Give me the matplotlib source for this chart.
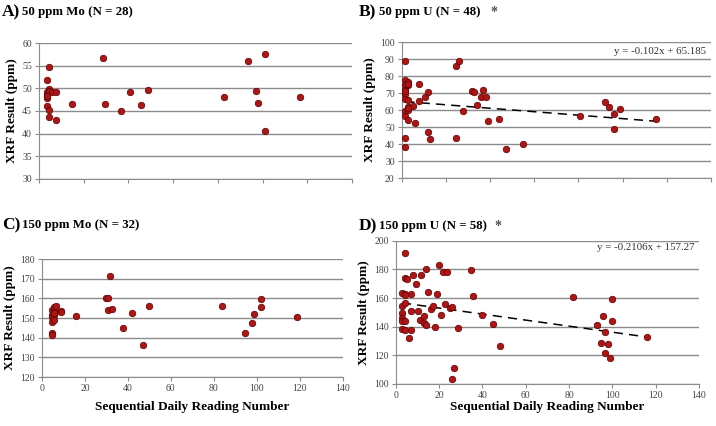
import numpy as np
import matplotlib
matplotlib.use("Agg")
import matplotlib.pyplot as plt

plt.rcParams["font.family"] = ["Liberation Serif", "DejaVu Serif"]

# A) 50 ppm Mo
a_x = [3.4, 4.6, 3.4, 3.4, 3.4, 4.6, 4.6, 5.7, 7.6, 3.4, 4.6, 4.6, 7.6, 14.6,
       28.8, 29.7, 36.7, 40.7, 45.7, 48.7, 82.8, 93.7, 97.0, 97.8, 100.9, 100.9,
       116.9, 3.4]
a_y = [51.9, 54.7, 49.1, 48.6, 47.8, 49.9, 49.5, 49.1, 49.1, 46.1, 45.3, 43.7,
       43.0, 46.5, 56.8, 46.6, 45.0, 49.1, 46.3, 49.6, 48.1, 56.0, 49.5, 46.8,
       57.6, 40.5, 48.0, 48.4]

# B) 50 ppm U
b_x = [1.7, 1.7, 1.7, 1.7, 1.7, 1.7, 1.7, 1.7, 1.7, 1.7, 2.7, 2.7, 2.7, 2.7,
       2.7, 2.7, 5.0, 5.9, 7.8, 7.8, 10.7, 11.8, 11.8, 12.8, 24.7, 25.9, 24.7,
       27.9, 31.8, 32.9, 33.9, 35.9, 37.0, 38.0, 38.9, 44.0, 47.1, 55.1, 80.8,
       91.9, 93.9, 95.9, 95.9, 98.9, 115.1, 1.7, 2.7, 2.7]
b_y = [89.2, 77.5, 74.9, 72.0, 69.4, 66.7, 59.2, 56.7, 43.3, 38.0, 76.5, 74.9,
       66.1, 61.8, 60.2, 54.3, 62.2, 52.5, 75.5, 65.5, 67.8, 70.4, 47.3, 43.1,
       86.1, 88.8, 43.7, 59.4, 71.0, 70.4, 63.3, 68.0, 71.6, 68.0, 53.7, 54.5,
       37.1, 39.8, 56.3, 64.5, 61.6, 57.8, 49.0, 60.6, 54.5, 71.0, 75.5, 61.0]

# C) 150 ppm Mo
c_x = [4.7, 4.7, 4.7, 4.7, 4.7, 4.7, 5.6, 5.6, 5.6, 5.6, 5.9, 6.7, 8.8, 8.8,
       15.8, 29.6, 30.9, 31.8, 30.9, 32.7, 37.9, 41.8, 46.9, 49.8, 83.8, 94.7,
       97.6, 98.9, 101.8, 101.8, 118.7, 5.6]
c_y = [154.0, 151.7, 150.3, 148.0, 142.6, 141.2, 154.0, 151.3, 149.0, 155.7,
       153.0, 156.1, 153.7, 153.0, 151.0, 160.3, 160.4, 171.2, 154.2, 154.4,
       144.8, 152.8, 136.5, 155.9, 155.9, 142.6, 147.6, 151.8, 159.6, 155.5,
       150.5, 152.5]

# D) 150 ppm U
d_x = [4.2, 4.0, 4.9, 2.8, 4.0, 2.8, 4.0, 2.8, 2.8, 2.8, 4.0, 2.8, 4.0, 6.0,
       7.1, 7.1, 7.1, 7.8, 9.1, 10.0, 10.9, 11.8, 12.9, 12.9, 13.8, 14.0, 14.9,
       16.0, 16.9, 18.0, 19.1, 19.8, 20.9, 21.8, 23.8, 22.8, 25.1, 26.0, 25.8,
       26.9, 28.9, 34.9, 35.8, 40.0, 44.9, 48.0, 81.8, 92.9, 94.9, 95.8, 96.8,
       96.8, 97.8, 98.9, 99.7, 99.7, 116.0, 4.0]
d_y = [191.6, 174.3, 173.1, 163.8, 162.6, 154.7, 156.5, 149.5, 145.8, 144.2,
       143.7, 138.1, 137.9, 132.0, 150.9, 162.6, 137.9, 175.9, 169.6, 150.9,
       144.4, 175.9, 147.7, 142.5, 141.4, 180.4, 164.5, 152.6, 154.7, 139.5,
       163.1, 182.9, 148.1, 178.0, 178.3, 156.1, 153.3, 153.5, 103.3, 111.2,
       139.3, 179.4, 161.4, 147.9, 142.1, 126.2, 160.5, 140.9, 128.3, 147.7,
       136.0, 122.0, 127.8, 118.2, 159.6, 144.2, 132.9, 162.0]

b_fit = (-0.102, 65.185)
d_fit = (-0.2106, 157.27)

fig = plt.figure(figsize=(7.16, 4.26), dpi=100)

GRID = "#8c8c8c"
RED = "#b01515"


def setup(ax, x, y, ylim, ystep, xlabels, xpad=4):
    ax.scatter(x, y, s=22, color=RED, edgecolors="#5a0000", linewidths=0.5, zorder=3)
    ax.set_xlim(0, 140)
    ax.set_ylim(*ylim)
    ax.set_xticks(np.arange(0, 141, 20))
    ax.set_yticks(np.arange(ylim[0], ylim[1] + 1, ystep))
    ax.yaxis.grid(True, color=GRID, linewidth=1.0)
    ax.set_axisbelow(True)
    for s in ["top", "right"]:
        ax.spines[s].set_visible(False)
    for s in ["left", "bottom"]:
        ax.spines[s].set_color(GRID)
    ax.tick_params(axis="both", colors=GRID, labelcolor="#444444", labelsize=7,
                   length=3, width=0.8, pad=2)
    if not xlabels:
        ax.set_xticklabels([])
    else:
        ax.set_xlabel("Sequential Daily Reading Number", fontsize=9.5,
                      fontweight="bold", labelpad=xpad)
    ax.set_ylabel("XRF Result (ppm)", fontsize=9.5, fontweight="bold", labelpad=3)


def trend(ax, x, fit):
    xs = np.array([min(x), max(x)])
    ax.plot(xs, fit[0] * xs + fit[1], color="black", linestyle=(0, (6, 4)),
            linewidth=1.1, zorder=2)


axA = fig.add_axes([0.0545, 0.580, 0.437, 0.319])
setup(axA, a_x, a_y, (30, 60), 5, False)

axB = fig.add_axes([0.561, 0.582, 0.432, 0.319])
setup(axB, b_x, b_y, (20, 100), 10, False)
trend(axB, b_x, b_fit)
axB.text(0.985, 0.93, "y = -0.102x + 65.185", transform=axB.transAxes,
         ha="right", va="center", fontsize=7.8, color="#333333")

axC = fig.add_axes([0.0587, 0.115, 0.420, 0.277])
setup(axC, c_x, c_y, (120, 180), 10, True, xpad=6)

axD = fig.add_axes([0.553, 0.0986, 0.423, 0.336])
setup(axD, d_x, d_y, (100, 200), 20, True, xpad=1)
trend(axD, d_x, d_fit)
axD.text(0.985, 0.955, "y = -0.2106x + 157.27", transform=axD.transAxes,
         ha="right", va="center", fontsize=7.8, color="#333333")


def title(xpx, ypx, letter, text, star=None):
    fx, fy = xpx / 716, 1 - ypx / 426
    fig.text(fx, fy, letter, fontsize=12.5, fontweight="bold", va="center", ha="left")
    fig.text(fx + 20 / 716, fy, text, fontsize=9.3, fontweight="bold",
             va="center", ha="left")
    if star is not None:
        fig.text(star / 716, fy, "*", fontsize=10, fontweight="bold",
                 color="#555555", va="center", ha="left")


title(2, 12, "A)", "50 ppm Mo (N = 28)")
title(359, 12, "B)", "50 ppm U (N = 48)", star=490)
title(2, 225, "C)", "150 ppm Mo (N = 32)")
title(359, 226, "D)", "150 ppm U (N = 58)", star=494)

fig.savefig("out.png", dpi=100)
